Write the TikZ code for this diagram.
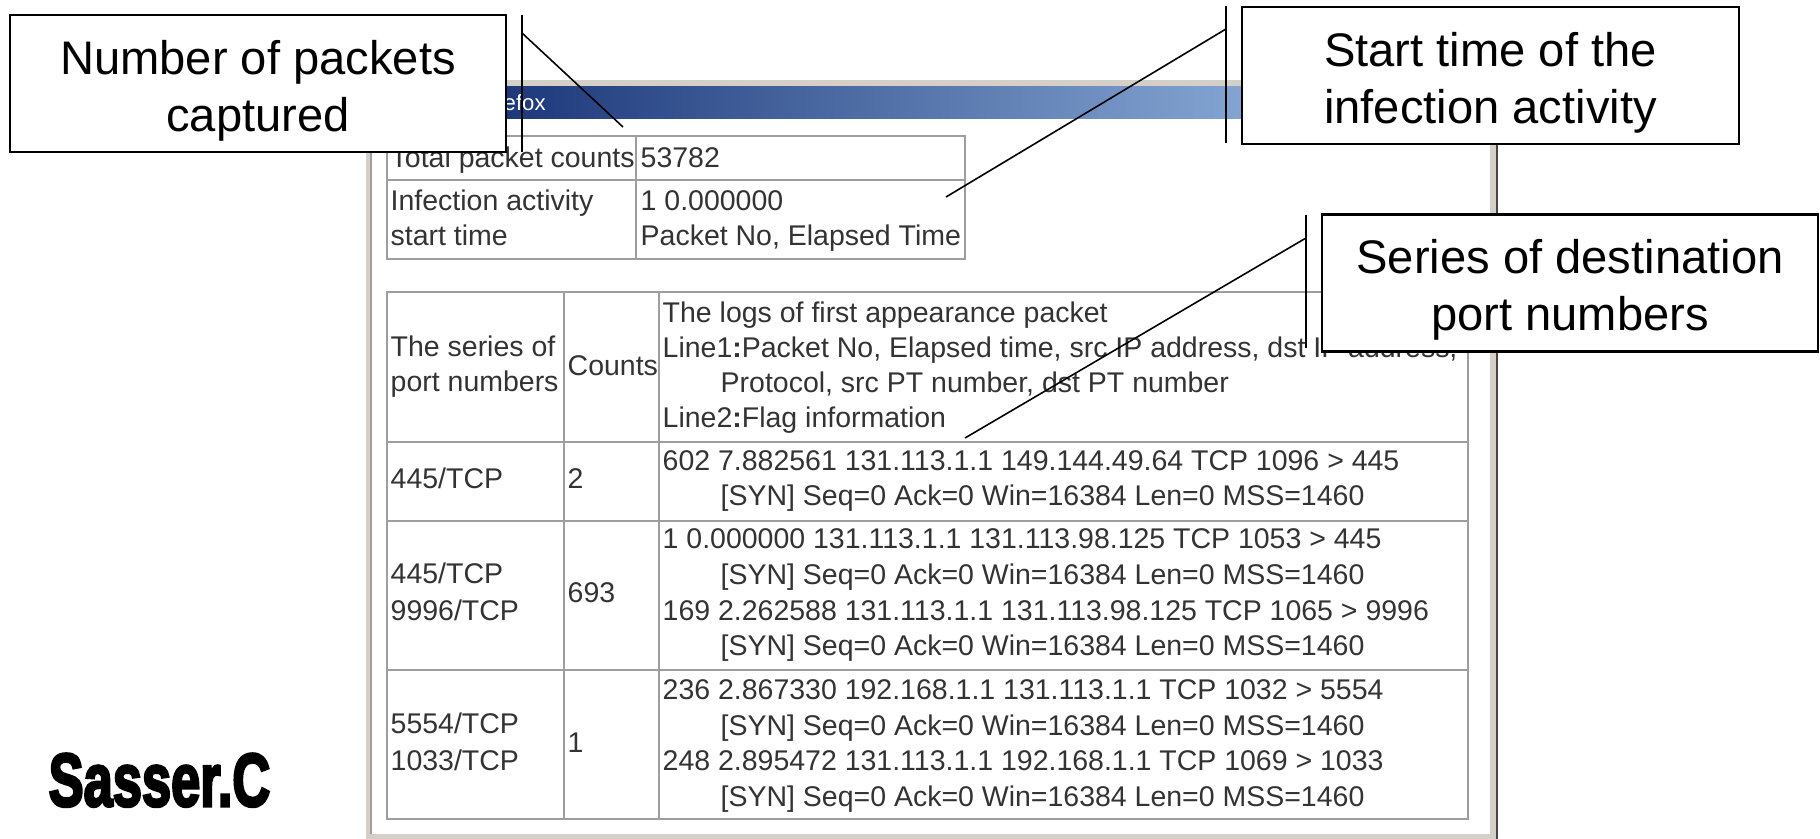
\documentclass[tikz,border=0pt]{standalone}
\usepackage{fontspec}
\setmainfont{Liberation Sans}
\newfontfamily\sasserfont{Liberation Sans}[BoldFeatures={FakeBold=4}]
\usepackage{tikz}
\usetikzlibrary{positioning}

\definecolor{cellgray}{RGB}{158,158,158}
\definecolor{framegray}{RGB}{212,208,200}
\definecolor{shadowgray}{RGB}{70,70,70}
\definecolor{titledark}{RGB}{10,36,106}
\definecolor{titlelight}{RGB}{166,202,240}
\newcommand{\topgap}{\rule{0pt}{13.6pt}}

\begin{document}
\begin{tikzpicture}[
    x=0.01cm, y=-0.01cm,
    callout/.style={draw, line width=0.6pt, fill=white, minimum width=4.96cm, minimum height=1.37cm, align=center, inner sep=0pt, font=\fontsize{13.4}{16.2}\selectfont},
    grid/.style={draw=cellgray, line width=0.7pt},
    celltext/.style={inner sep=0pt, anchor=base west, text=black!80, font=\fontsize{8.1}{10}\selectfont},
    leader/.style={line width=0.45pt}
]
    \useasboundingbox (0,0) rectangle (1820,839);
    % Browser window frame and title bar
    \fill[framegray] (366,80) rectangle (1497,839);
    \fill[white] (372,118) rectangle (1490,834);
    \draw[cellgray, line width=0.3pt] (371,118) -- (371,834);
    \draw[shadowgray, line width=0.6pt] (1497,86) -- (1497,839);
    \shade[left color=titledark, right color=titlelight] (366,86) rectangle (1496,118);
    \node[anchor=base west, inner sep=0pt, text=white, font=\fontsize{6.3}{7}\selectfont] (wintitle) at (503,110) {efox};
    % Summary table
    \draw[grid] (387,136) rectangle (965,259);
    \draw[grid] (636,136) -- (636,259);
    \draw[grid] (387,180) -- (965,180);
    \node[celltext] (total) at (390,167) {Total packet counts};
    \node[celltext] (totalval) at (640,167) {53782};
    \node[celltext] (start) at (390,210) {Infection activity};
    \node[celltext] (start2) at (390,245) {start time};
    \node[celltext] (startval) at (640,210) {1 0.000000};
    \node[celltext] (startval2) at (640,245) {Packet No, Elapsed Time};
    % Port series table
    \draw[grid] (387,292) rectangle (1468,819);
    \draw[grid] (564,292) -- (564,819);
    \draw[grid] (659,292) -- (659,819);
    \draw[grid] (387,442) -- (1468,442);
    \draw[grid] (387,521) -- (1468,521);
    \draw[grid] (387,670) -- (1468,670);
    % header row
    \node[celltext] (hport) at (390,356) {The series of};
    \node[celltext] (hport2) at (390,391) {port numbers};
    \node[celltext] (hcount) at (567,375) {Counts};
    \node[celltext] (hlog) at (662,322) {The logs of first appearance packet};
    \node[celltext] (hlog2) at (662,357) {Line1{\bfseries:}Packet No, Elapsed time, src IP address, dst IP address,};
    \node[celltext] (hlog3) at (720,392) {Protocol, src PT number, dst PT number};
    \node[celltext] (hlog4) at (662,427) {Line2{\bfseries:}Flag information};
    % row 1
    \node[celltext] (port1) at (390,488) {445/TCP};
    \node[celltext] (count1) at (567,488) {2};
    \node[celltext] (log1a) at (662,470) {602 7.882561 131.113.1.1 149.144.49.64 TCP 1096 > 445};
    \node[celltext] (log1b) at (720,505) {[SYN] Seq=0 Ack=0 Win=16384 Len=0 MSS=1460};
    % row 2
    \node[celltext] (port2a) at (390,583) {445/TCP};
    \node[celltext] (port2b) at (390,620) {9996/TCP};
    \node[celltext] (count2) at (567,602) {693};
    \node[celltext] (log2a) at (662,548) {1 0.000000 131.113.1.1 131.113.98.125 TCP 1053 > 445};
    \node[celltext] (log2b) at (720,584) {[SYN] Seq=0 Ack=0 Win=16384 Len=0 MSS=1460};
    \node[celltext] (log2c) at (662,620) {169 2.262588 131.113.1.1 131.113.98.125 TCP 1065 > 9996};
    \node[celltext] (log2d) at (720,655) {[SYN] Seq=0 Ack=0 Win=16384 Len=0 MSS=1460};
    % row 3
    \node[celltext] (port3a) at (390,733) {5554/TCP};
    \node[celltext] (port3b) at (390,770) {1033/TCP};
    \node[celltext] (count3) at (567,752) {1};
    \node[celltext] (log3a) at (662,699) {236 2.867330 192.168.1.1 131.113.1.1 TCP 1032 > 5554};
    \node[celltext] (log3b) at (720,735) {[SYN] Seq=0 Ack=0 Win=16384 Len=0 MSS=1460};
    \node[celltext] (log3c) at (662,770) {248 2.895472 131.113.1.1 192.168.1.1 TCP 1069 > 1033};
    \node[celltext] (log3d) at (720,806) {[SYN] Seq=0 Ack=0 Win=16384 Len=0 MSS=1460};
    % Callout bars and leader lines
    \coordinate (bar1top) at (522,15);
    \coordinate (bar1bot) at (522,152);
    \coordinate (knee1) at (522,33);
    \coordinate (tip1) at (623,127);
    \coordinate (bar2top) at (1226,6);
    \coordinate (bar2bot) at (1226,143);
    \coordinate (knee2) at (1226,29);
    \coordinate (tip2) at (946,197);
    \coordinate (bar3top) at (1306,215);
    \coordinate (bar3bot) at (1306,348);
    \coordinate (knee3) at (1306,238);
    \coordinate (tip3) at (965,438);
    \draw[leader] (bar1top) -- (bar1bot);
    \draw[leader] (knee1) -- (tip1);
    \draw[leader] (bar2top) -- (bar2bot);
    \draw[leader] (knee2) -- (tip2);
    \draw[leader] (bar3top) -- (bar3bot);
    \draw[leader] (knee3) -- (tip3);
    % Callout boxes
    \node[callout] (packets) at (258,83.5) {\topgap Number of packets\\captured};
    \node[callout] (starttime) at (1490.5,75.5) {\topgap Start time of the\\infection activity};
    \node[callout] (dstports) at (1570,283) {\topgap Series of destination\\port numbers};
    % Worm name
    \node[anchor=base west, inner sep=0pt] (worm) at (48,806) {\sasserfont\bfseries\fontsize{21.3}{22}\selectfont\scalebox{0.7}[1]{Sasser.C}};
\end{tikzpicture}
\end{document}
